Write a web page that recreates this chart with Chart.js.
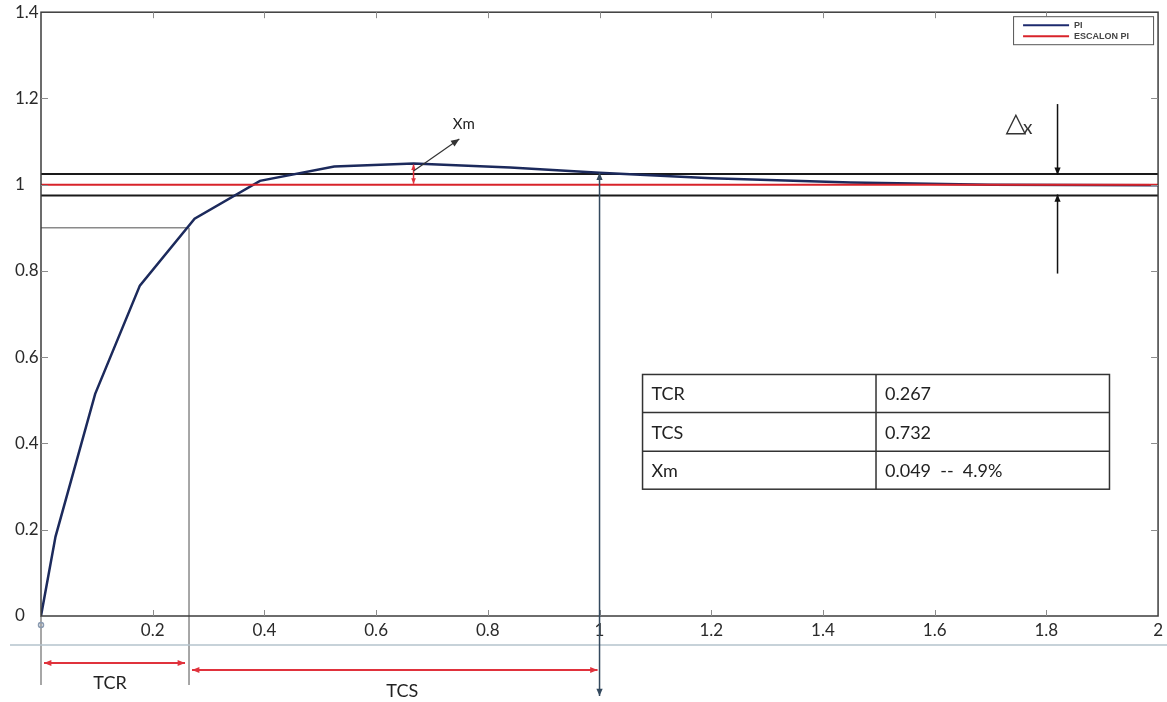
<!DOCTYPE html>
<html><head><meta charset="utf-8">
<script src="https://cdn.jsdelivr.net/npm/chart.js@4/dist/chart.umd.min.js"></script>
<style>html,body{margin:0;padding:0;background:#fff;}canvas{display:block;}</style>
</head><body>
<canvas id="c" width="1167" height="702"></canvas>
<script>
// ---- data ----
const piX = [0, 0.026, 0.097, 0.177, 0.275, 0.392, 0.525, 0.667, 0.84, 1.0, 1.2, 1.45, 1.7, 2.0];
const piY = [0, 0.184, 0.515, 0.766, 0.921, 1.009, 1.042, 1.049, 1.040, 1.028, 1.015, 1.005, 1.0, 0.999];
const stepX = [0, 2];
const stepY = [1, 1];
const bandUpper = [1.025, 1.025];
const bandLower = [0.975, 0.975];
const riseLevel = 0.9;          // 90% guide
const tcrMark = 0.265;          // where the curve reaches 0.9
const tcsEnd = 1.0;             // settling time mark
const xmAt = 0.667;             // peak position
const xmPeak = 1.049;
const deltaAt = 1.82;
const tableRows = [["TCR", "0.267"], ["TCS", "0.732"], ["Xm", "0.049  --  4.9%"]];
const legendLabels = ["PI", "ESCALON PI"];

const FONT = "Lato, 'Open Sans', sans-serif";
const pts = (xs, ys) => xs.map((v, i) => ({x: v, y: ys[i]}));

function arrowHead(ctx, x1, y1, x2, y2, size, color) {
  const ang = Math.atan2(y2 - y1, x2 - x1);
  ctx.save();
  ctx.fillStyle = color;
  ctx.beginPath();
  ctx.moveTo(x2, y2);
  ctx.lineTo(x2 - size * Math.cos(ang - 0.4), y2 - size * Math.sin(ang - 0.4));
  ctx.lineTo(x2 - size * Math.cos(ang + 0.4), y2 - size * Math.sin(ang + 0.4));
  ctx.closePath();
  ctx.fill();
  ctx.restore();
}
function arrow(ctx, x1, y1, x2, y2, color, width, startHead, endHead, size) {
  ctx.save();
  ctx.strokeStyle = color; ctx.lineWidth = width;
  ctx.beginPath(); ctx.moveTo(x1, y1); ctx.lineTo(x2, y2); ctx.stroke();
  if (endHead) arrowHead(ctx, x1, y1, x2, y2, size, color);
  if (startHead) arrowHead(ctx, x2, y2, x1, y1, size, color);
  ctx.restore();
}

const guides = {
  id: 'guides',
  beforeDatasetsDraw(chart) {
    const {ctx, chartArea: a, scales: {x, y}} = chart;
    const X = v => x.getPixelForValue(v), Y = v => y.getPixelForValue(v);
    ctx.save();
    ctx.strokeStyle = '#8a8a8a'; ctx.lineWidth = 1.5;
    ctx.beginPath();
    ctx.moveTo(X(0), Y(riseLevel)); ctx.lineTo(X(tcrMark), Y(riseLevel));
    ctx.moveTo(X(tcrMark), Y(riseLevel)); ctx.lineTo(X(tcrMark), a.bottom + 69);
    ctx.moveTo(X(0), a.bottom); ctx.lineTo(X(0), a.bottom + 69);
    ctx.stroke();
    ctx.restore();
  },
  afterDatasetsDraw(chart) {
    const {ctx, chartArea: a, scales: {x, y}} = chart;
    const X = v => x.getPixelForValue(v), Y = v => y.getPixelForValue(v);
    ctx.save();
    // frame
    ctx.strokeStyle = '#3c3c3c'; ctx.lineWidth = 1.5;
    ctx.strokeRect(a.left, a.top, a.right - a.left, a.bottom - a.top);
    // inward ticks
    ctx.strokeStyle = '#8c8c8c'; ctx.lineWidth = 1;
    ctx.beginPath();
    x.ticks.forEach(t => {
      if (t.value <= 0 || t.value >= 2) return;
      const px = Math.round(X(t.value)) + 0.5;
      ctx.moveTo(px, a.bottom); ctx.lineTo(px, a.bottom - 6);
      ctx.moveTo(px, a.top); ctx.lineTo(px, a.top + 6);
    });
    y.ticks.forEach(t => {
      if (t.value <= 0 || t.value >= 1.4) return;
      const py = Math.round(Y(t.value)) + 0.5;
      ctx.moveTo(a.left, py); ctx.lineTo(a.left + 7, py);
      ctx.moveTo(a.right, py); ctx.lineTo(a.right - 7, py);
    });
    ctx.stroke();

    // origin marker
    ctx.strokeStyle = '#8a9ab0'; ctx.lineWidth = 1.5;
    ctx.beginPath(); ctx.arc(X(0), a.bottom + 9, 2.5, 0, Math.PI * 2); ctx.stroke();

    // separator line below tick labels
    ctx.strokeStyle = '#b4c3cc'; ctx.lineWidth = 1.5;
    ctx.beginPath(); ctx.moveTo(10, a.bottom + 29); ctx.lineTo(chart.width, a.bottom + 29); ctx.stroke();

    // settling time vertical double arrow
    const curveAt1 = piY[piX.indexOf(tcsEnd)];
    arrow(ctx, X(tcsEnd), a.bottom + 80, X(tcsEnd), Y(curveAt1), '#34495e', 1.5, true, true, 8);

    // TCR / TCS arrows
    const red = '#e0323c';
    arrow(ctx, X(0) + 3, a.bottom + 47, X(tcrMark) - 4, a.bottom + 47, red, 2, true, true, 8);
    arrow(ctx, X(tcrMark) + 3, a.bottom + 54, X(tcsEnd) - 2, a.bottom + 54, red, 2, true, true, 8);
    ctx.fillStyle = '#222'; ctx.font = '18px ' + FONT;
    ctx.textAlign = 'center'; ctx.textBaseline = 'middle';
    ctx.fillText('TCR', (X(0) + X(tcrMark)) / 2 - 5, a.bottom + 67);
    ctx.fillText('TCS', (X(tcrMark) + X(tcsEnd)) / 2 + 8, a.bottom + 75);

    // Xm red double arrow and pointer
    arrow(ctx, X(xmAt), Y(xmPeak) + 1, X(xmAt), Y(1) - 1, red, 1.5, true, true, 6);
    arrow(ctx, X(xmAt), Y(1.032), X(0.749), Y(1.106), '#333', 1.2, false, true, 9);
    ctx.font = '15px ' + FONT; ctx.fillStyle = '#222';
    ctx.fillText('Xm', X(0.757), Y(1.14));

    // delta x arrows
    arrow(ctx, X(deltaAt), Y(1.187), X(deltaAt), Y(bandUpper[0]) + 1, '#111', 1.5, false, true, 8);
    arrow(ctx, X(deltaAt), Y(0.794), X(deltaAt), Y(bandLower[0]) - 1, '#111', 1.5, false, true, 8);
    ctx.textAlign = 'left';
    ctx.font = '27px "DejaVu Sans"'; ctx.fillStyle = '#333';
    ctx.fillText('\u25B3', X(1.727), Y(1.14));
    ctx.font = '19px ' + FONT;
    ctx.fillText('x', X(1.758), Y(1.132));

    // table
    const tx0 = X(1.077), tx1 = X(1.913), tc = X(1.495);
    const rowsY = [0.560, 0.472, 0.382, 0.294].map(Y);
    ctx.fillStyle = '#fff';
    ctx.fillRect(tx0, rowsY[0], tx1 - tx0, rowsY[3] - rowsY[0]);
    ctx.strokeStyle = '#333'; ctx.lineWidth = 1.5;
    ctx.strokeRect(tx0, rowsY[0], tx1 - tx0, rowsY[3] - rowsY[0]);
    ctx.beginPath();
    ctx.moveTo(tc, rowsY[0]); ctx.lineTo(tc, rowsY[3]);
    ctx.moveTo(tx0, rowsY[1]); ctx.lineTo(tx1, rowsY[1]);
    ctx.moveTo(tx0, rowsY[2]); ctx.lineTo(tx1, rowsY[2]);
    ctx.stroke();
    ctx.fillStyle = '#222'; ctx.font = '18px ' + FONT; ctx.textBaseline = 'middle';
    tableRows.forEach((r, i) => {
      const cy = (rowsY[i] + rowsY[i + 1]) / 2 + 1;
      ctx.fillText(r[0], tx0 + 9, cy);
      ctx.fillText(r[1], tc + 9, cy);
    });

    // legend
    const lx0 = a.right - 145, ly0 = a.top + 4;
    ctx.fillStyle = '#fff'; ctx.fillRect(lx0, ly0, 140, 28);
    ctx.strokeStyle = '#555'; ctx.lineWidth = 1;
    ctx.strokeRect(lx0 + 0.5, ly0 + 0.5, 140, 28);
    const lcol = ['#1c2a6e', '#d8232a'];
    ctx.font = 'bold 9px "Liberation Sans", Arial, sans-serif';
    legendLabels.forEach((lab, i) => {
      const ly = ly0 + 9 + i * 11;
      ctx.strokeStyle = lcol[i]; ctx.lineWidth = 2;
      ctx.beginPath(); ctx.moveTo(lx0 + 10, ly); ctx.lineTo(lx0 + 56, ly); ctx.stroke();
      ctx.fillStyle = '#444';
      ctx.fillText(lab, lx0 + 61, ly + 0.5);
    });
    ctx.restore();
  }
};

new Chart(document.getElementById('c'), {
  type: 'scatter',
  data: {
    datasets: [
      {label: legendLabels[1], data: pts(stepX, stepY), showLine: true, borderColor: '#d8232a', borderWidth: 2, pointRadius: 0, order: 0},
      {label: legendLabels[0], data: pts(piX, piY), showLine: true, borderColor: '#1c2a5c', borderWidth: 2.5, pointRadius: 0, tension: 0, order: 1},
      {label: 'upper', data: pts(stepX, bandUpper), showLine: true, borderColor: '#1a1a1a', borderWidth: 2, pointRadius: 0, order: 2},
      {label: 'lower', data: pts(stepX, bandLower), showLine: true, borderColor: '#1a1a1a', borderWidth: 2, pointRadius: 0, order: 2}
    ]
  },
  options: {
    responsive: false,
    animation: false,
    devicePixelRatio: 1,
    layout: {padding: {left: 15, right: 3, top: 2, bottom: 0}},
    plugins: {legend: {display: false}, tooltip: {enabled: false}},
    scales: {
      x: {
        type: 'linear', min: 0, max: 2,
        grid: {display: false, drawTicks: false},
        border: {display: false},
        afterFit: s => { s.height = 86; },
        ticks: {
          stepSize: 0.2, padding: 4, color: '#2a2a2a', font: {family: FONT, size: 17},
          maxRotation: 0, autoSkip: false,
          callback: v => (v === 0 ? '' : Number(v.toFixed(1)).toString())
        }
      },
      y: {
        type: 'linear', min: 0, max: 1.4,
        grid: {display: false, drawTicks: false},
        border: {display: false},
        afterFit: s => { s.width = 26; },
        ticks: {
          stepSize: 0.2, crossAlign: 'far', padding: 2, color: '#2a2a2a', font: {family: FONT, size: 17},
          callback: v => Number(v.toFixed(1)).toString()
        }
      }
    }
  },
  plugins: [guides]
});
</script>
</body></html>
